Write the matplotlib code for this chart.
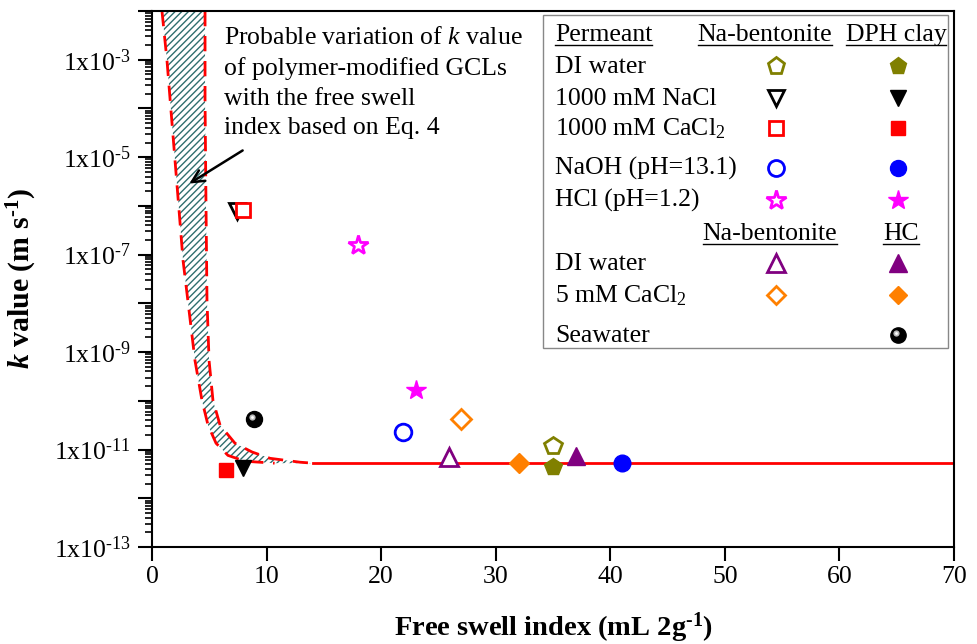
import matplotlib
matplotlib.use('Agg')
import matplotlib.pyplot as plt
import numpy as np
from matplotlib.patches import Polygon, Rectangle
from matplotlib.lines import Line2D
from matplotlib.transforms import offset_copy
from matplotlib.ticker import FixedLocator, FuncFormatter, NullFormatter

plt.rcParams.update({
    'font.family': ['Liberation Serif', 'DejaVu Serif'],
    'mathtext.fontset': 'custom',
    'mathtext.rm': 'Liberation Serif',
    'mathtext.it': 'Liberation Serif:italic',
    'mathtext.bf': 'Liberation Serif:bold',
    'mathtext.bfit': 'Liberation Serif:italic:bold',
    'font.size': 18.5,
    'hatch.linewidth': 1.0,
})

HY = '\u2010'  # hyphen for superscripts

# ---------------- data ----------------
permeants_a = ['DI water', '1000 mM NaCl', '1000 mM CaCl$_2$', 'NaOH (pH=13.1)', 'HCl (pH=1.2)']
markers_a = ['p', 'v', 's', 'o', '*']
colors_a = ['#808000', '#000000', '#FF0000', '#0000FF', '#FF00FF']
msize_a = [13, 12, 10, 12, 15]
nabent_fsi = [35.0, 7.4, 7.9, 21.9, 18.0]
nabent_k = [1.2e-11, 7.8e-7, 8.1e-7, 2.3e-11, 1.6e-7]
dph_fsi = [35.0, 7.9, 6.5, 41.0, 23.0]
dph_k = [4.4e-12, 4.2e-12, 3.8e-12, 5.2e-12, 1.7e-10]

permeants_b = ['DI water', '5 mM CaCl$_2$']
markers_b = ['^', 'D']
colors_b = ['#800080', '#FF8000']
msize_b = [13, 10]
nabent2_fsi = [25.9, 27.0]
nabent2_k = [6.9e-12, 4.2e-11]
hc_fsi = [37.0, 32.0]
hc_k = [7.3e-12, 5.2e-12]

seawater_fsi = [8.9]
seawater_k = [4.2e-11]

# Eq. 4 band (bounds)
lower_fsi = [0.87, 1.31, 1.66, 2.01, 2.36, 2.71, 3.23, 3.75, 4.36, 4.89, 5.59, 6.63, 8.12, 10.7]
lower_logk = [-2.0, -3.02, -4.05, -5.07, -6.09, -7.12, -8.14, -9.17, -9.99, -10.50, -10.87, -11.12, -11.24, -11.28]
upper_fsi = [4.63, 4.63, 4.71, 4.80, 4.98, 5.32, 5.94, 7.24, 8.73, 10.30, 12.92, 14.05]
upper_logk = [-2.0, -3.84, -5.89, -7.94, -9.17, -9.99, -10.50, -10.87, -11.05, -11.18, -11.26, -11.28]
line_fsi = [14.05, 70.0]
line_k = [5.2e-12, 5.2e-12]

xticks = [0, 10, 20, 30, 40, 50, 60, 70]
yexps = list(range(-13, -1))

# ---------------- figure ----------------
fig = plt.figure(figsize=(9.78, 6.44), dpi=100)
ax = fig.add_axes([152/978, 1-547/644, (954-152)/978, (547-11)/644])
ax.set_yscale('log')
ax.set_xlim(0, 70)
ax.set_ylim(1e-13, 1e-2)

# band
poly_pts = [(x, 10**y) for x, y in zip(lower_fsi, lower_logk)] + \
           [(x, 10**y) for x, y in zip(upper_fsi[::-1], upper_logk[::-1])]
band = Polygon(poly_pts, closed=True, facecolor='none', edgecolor='#2E6E6E',
               linewidth=0, hatch='/////', zorder=1)
ax.add_patch(band)
ax.plot(lower_fsi, 10**np.array(lower_logk), color='#FF0000', lw=2.0,
        dashes=(5.5, 3.5), zorder=2)
ax.plot(upper_fsi, 10**np.array(upper_logk), color='#FF0000', lw=2.0,
        dashes=(5.5, 3.5), zorder=2)
ax.plot(line_fsi, line_k, color='#FF0000', lw=2.0, zorder=2)

# data points
for i in range(len(permeants_a)):
    ax.plot(nabent_fsi[i], nabent_k[i], marker=markers_a[i], ms=msize_a[i],
            mfc='white', mec=colors_a[i], mew=2.0, ls='none', zorder=5)
    ax.plot(dph_fsi[i], dph_k[i], marker=markers_a[i], ms=msize_a[i],
            mfc=colors_a[i], mec=colors_a[i], mew=1.0, ls='none', zorder=5)
for i in range(len(permeants_b)):
    ax.plot(nabent2_fsi[i], nabent2_k[i], marker=markers_b[i], ms=msize_b[i],
            mfc='white', mec=colors_b[i], mew=2.0, ls='none', zorder=5)
    ax.plot(hc_fsi[i], hc_k[i], marker=markers_b[i], ms=msize_b[i],
            mfc=colors_b[i], mec=colors_b[i], mew=1.0, ls='none', zorder=5)

hl = offset_copy(ax.transData, fig=fig, x=-2.0, y=2.0, units='dots')
ax.plot(seawater_fsi, seawater_k, marker='o', ms=11.5, mfc='black', mec='black',
        ls='none', zorder=5)
ax.plot(seawater_fsi, seawater_k, marker='o', ms=4.5, mfc='#bbbbbb', mec='none',
        ls='none', zorder=6, transform=hl)
ax.plot(seawater_fsi, seawater_k, marker='o', ms=2, mfc='white', mec='none',
        ls='none', zorder=7, transform=hl)

# ticks
ax.xaxis.set_major_locator(FixedLocator(xticks))
ax.yaxis.set_major_locator(FixedLocator([10.0**e for e in yexps]))
minors = [m * 10.0**e for e in yexps[:-1] for m in range(2, 10)]
ax.yaxis.set_minor_locator(FixedLocator(minors))
ax.yaxis.set_minor_formatter(NullFormatter())

def yfmt(v, pos):
    e = int(round(np.log10(v)))
    return (r'1x10$^{' + HY + '%d}$') % abs(e) if e % 2 != 0 else ''

ax.yaxis.set_major_formatter(FuncFormatter(yfmt))
ax.tick_params(axis='both', which='major', direction='out', length=10, width=1.5,
               labelsize=18.5, top=False, right=False)
ax.tick_params(axis='y', which='major', pad=5)
ax.tick_params(axis='x', which='major', pad=4)
ax.tick_params(axis='y', which='minor', direction='out', length=5, width=1.2)
for s in ax.spines.values():
    s.set_linewidth(1.5)

# axis labels
fig.text(553/978, 1-628/644, r'Free swell index (mL 2g$^{\mathbf{' + HY + '1}}$)',
         fontsize=20.5, fontweight='bold', ha='center', va='center')
fig.text(22/978, 1-279/644, r'$\mathbfit{k}$ value (m s$^{\mathbf{' + HY + '1}}$)',
         fontsize=21.5, fontweight='bold', ha='center', va='center', rotation=90)

# annotation
def axf(px, py):
    return ((px - 152) / 802.0, (547 - py) / 536.0)

ax.text(*axf(224, 27), 'Probable variation of $k$ value\nof polymer-modified GCLs\nwith the free swell\nindex based on Eq. 4',
        transform=ax.transAxes, ha='left', va='top', fontsize=18.5, linespacing=1.45)
ax.annotate('', xy=axf(187, 185), xytext=axf(245, 149), xycoords='axes fraction',
            textcoords='axes fraction',
            arrowprops=dict(arrowstyle='->', lw=1.8, color='black', mutation_scale=22))

# legend box
x0, y0 = axf(543, 348)
x1, y1 = axf(948, 15)
ax.add_patch(Rectangle((x0, y0), x1 - x0, y1 - y0, transform=ax.transAxes,
                       facecolor='white', edgecolor='#888888', lw=1.0, zorder=8))

text_x = axf(555, 0)[0]
col_open = axf(776, 0)[0]
col_fill = axf(898, 0)[0]
rows_a = [66, 98, 128, 168, 200]
rows_b = [263, 295]
headers = []

def header(px, py, s, ha):
    t = ax.text(axf(px, py)[0], axf(px, py)[1], s, transform=ax.transAxes,
                ha=ha, va='baseline', fontsize=18.5, zorder=9)
    headers.append(t)

header(555, 41, 'Permeant', 'left')
header(765, 41, 'Na-bentonite', 'center')
header(896, 41, 'DPH clay', 'center')
header(770, 240, 'Na-bentonite', 'center')
header(901, 240, 'HC', 'center')

for i, lab in enumerate(permeants_a):
    py = rows_a[i]
    ax.text(text_x, axf(0, py + 7)[1], lab, transform=ax.transAxes, ha='left',
            va='baseline', fontsize=18.5, zorder=9)
    ax.plot(col_open, axf(0, py)[1], marker=markers_a[i], ms=msize_a[i] - 0.5,
            mfc='white', mec=colors_a[i], mew=2.0, transform=ax.transAxes,
            zorder=9, clip_on=False)
    ax.plot(col_fill, axf(0, py)[1], marker=markers_a[i], ms=msize_a[i] - 0.5,
            mfc=colors_a[i], mec=colors_a[i], mew=1.0, transform=ax.transAxes,
            zorder=9, clip_on=False)
for i, lab in enumerate(permeants_b):
    py = rows_b[i]
    ax.text(text_x, axf(0, py + 7)[1], lab, transform=ax.transAxes, ha='left',
            va='baseline', fontsize=18.5, zorder=9)
    ax.plot(col_open, axf(0, py)[1], marker=markers_b[i], ms=msize_b[i] - 0.5,
            mfc='white', mec=colors_b[i], mew=2.0, transform=ax.transAxes,
            zorder=9, clip_on=False)
    ax.plot(col_fill, axf(0, py)[1], marker=markers_b[i], ms=msize_b[i] - 0.5,
            mfc=colors_b[i], mec=colors_b[i], mew=1.0, transform=ax.transAxes,
            zorder=9, clip_on=False)

py = 335
ax.text(text_x, axf(0, py + 7)[1], 'Seawater', transform=ax.transAxes, ha='left',
        va='baseline', fontsize=18.5, zorder=9)
lhl = offset_copy(ax.transAxes, fig=fig, x=-2.0, y=2.0, units='dots')
ax.plot(col_fill, axf(0, py)[1], marker='o', ms=11, mfc='black', mec='black',
        transform=ax.transAxes, zorder=9, clip_on=False)
ax.plot(col_fill, axf(0, py)[1], marker='o', ms=4.5, mfc='#bbbbbb', mec='none',
        transform=lhl, zorder=10, clip_on=False)
ax.plot(col_fill, axf(0, py)[1], marker='o', ms=2, mfc='white', mec='none',
        transform=lhl, zorder=11, clip_on=False)

# underlines for headers
fig.canvas.draw()
r = fig.canvas.get_renderer()
for t in headers:
    bb = t.get_window_extent(renderer=r)
    base_y = ax.transAxes.transform(t.get_position())[1]
    yline = base_y - 4
    fig.add_artist(Line2D([bb.x0 / 978, bb.x1 / 978], [yline / 644, yline / 644],
                          color='black', lw=1.0, zorder=12))

fig.savefig('out.png', dpi=100)
